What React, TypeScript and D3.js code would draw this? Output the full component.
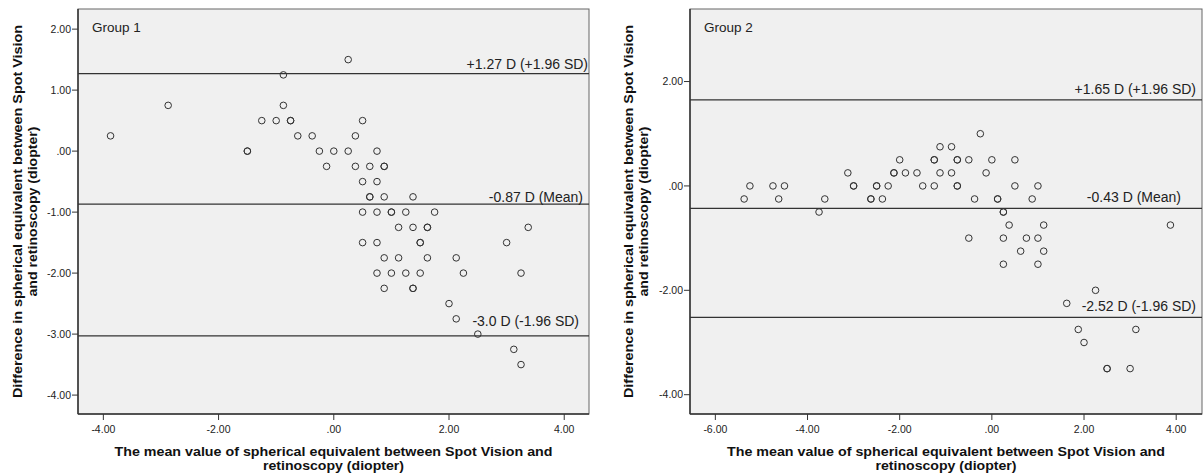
import React from 'react';
import * as d3 from 'd3';

// Group 1: mean of the two methods (x) and their difference (y)
const group1Mean = [
  -3.875, -2.875, -1.5, -1.5, -1.25, -1.0, -0.75, -0.75, -0.875, -0.875,
  -0.625, -0.375, 0.375, 0.25, 0.5, -0.25, 0, 0.25, 0.75, -0.125,
  0.375, 0.625, 0.875, 0.875, 0.5, 0.75, 0.625, 0.625, 0.875, 1.375,
  0.5, 0.75, 1.0, 1.0, 1.25, 1.75, 1.125, 1.375, 1.625, 1.625,
  3.375, 0.5, 0.75, 1.5, 1.5, 3.0, 0.875, 1.125, 1.625, 2.125,
  0.75, 1.0, 1.25, 1.5, 2.25, 3.25, 0.875, 1.375, 1.375, 2.0,
  2.125, 2.5, 3.125, 3.25,
];
const group1Diff = [
  0.25, 0.75, 0, 0, 0.5, 0.5, 0.5, 0.5, 1.25, 0.75,
  0.25, 0.25, 0.25, 1.5, 0.5, 0, 0, 0, 0, -0.25,
  -0.25, -0.25, -0.25, -0.25, -0.5, -0.5, -0.75, -0.75, -0.75, -0.75,
  -1.0, -1.0, -1.0, -1.0, -1.0, -1.0, -1.25, -1.25, -1.25, -1.25,
  -1.25, -1.5, -1.5, -1.5, -1.5, -1.5, -1.75, -1.75, -1.75, -1.75,
  -2.0, -2.0, -2.0, -2.0, -2.0, -2.0, -2.25, -2.25, -2.25, -2.5,
  -2.75, -3.0, -3.25, -3.5,
];
const group1Lines = [1.27, -0.87, -3.03];
const group1LineLabels = ['+1.27 D (+1.96 SD)', '-0.87 D (Mean)', '-3.0 D (-1.96 SD)'];
const group1XTicks = [-4, -2, 0, 2, 4];
const group1YTicks = [-4, -3, -2, -1, 0, 1, 2];

// Group 2
const group2Mean = [
  -5.375, -5.25, -4.75, -4.5, -4.625, -3.75, -3.625, -3.125, -3.0, -3.0,
  -2.625, -2.625, -2.5, -2.5, -2.375, -2.25, -2.125, -2.125, -2.0, -1.875,
  -1.625, -1.5, -1.25, -1.25, -1.25, -1.125, -0.875, -1.125, -0.875, -0.75,
  -0.75, -0.75, -0.75, -0.5, -0.5, -0.25, 0, 0.5, -0.125, 0.5,
  1.0, -0.375, 0.125, 0.125, 0.875, 0.25, 0.25, 0.375, 1.125, 3.875,
  0.25, 0.75, 1.0, 0.625, 1.125, 0.25, 1.0, 2.25, 1.625, 1.875,
  3.125, 2.0, 2.5, 2.5, 3.0,
];
const group2Diff = [
  -0.25, 0, 0, 0, -0.25, -0.5, -0.25, 0.25, 0, 0,
  -0.25, -0.25, 0, 0, -0.25, 0, 0.25, 0.25, 0.5, 0.25,
  0.25, 0, 0, 0.5, 0.5, 0.75, 0.75, 0.25, 0.25, 0.5,
  0.5, 0, 0, 0.5, -1.0, 1.0, 0.5, 0.5, 0.25, 0,
  0, -0.25, -0.25, -0.25, -0.25, -0.5, -0.5, -0.75, -0.75, -0.75,
  -1.0, -1.0, -1.0, -1.25, -1.25, -1.5, -1.5, -2.0, -2.25, -2.75,
  -2.75, -3.0, -3.5, -3.5, -3.5,
];
const group2Lines = [1.65, -0.43, -2.52];
const group2LineLabels = ['+1.65 D (+1.96 SD)', '-0.43 D (Mean)', '-2.52 D (-1.96 SD)'];
const group2XTicks = [-6, -4, -2, 0, 2, 4];
const group2YTicks = [-4, -2, 0, 2];

const xTitle = ['The mean value of spherical equivalent between Spot Vision and', 'retinoscopy (diopter)'];
const yTitle = ['Difference in spherical equivalent between Spot Vision', 'and retinoscopy (diopter)'];

const fmt = (v: number) => (v === 0 ? '.00' : v.toFixed(2));

type PanelProps = {
  name: string;
  left: number;
  right: number;
  xDomain: [number, number];
  yDomain: [number, number];
  xs: number[];
  ys: number[];
  lines: number[];
  labels: string[];
  labelPos: { dx: number; dy: number }[];
  xTicks: number[];
  yTicks: number[];
  titleX: number;
};

const top = 9;
const bottom = 414;

function Panel(p: PanelProps) {
  const x = d3.scaleLinear().domain(p.xDomain).range([p.left, p.right]);
  const y = d3.scaleLinear().domain(p.yDomain).range([bottom, top]);
  const cx = (p.left + p.right) / 2;
  const cy = (top + bottom) / 2;
  const font = 'Liberation Sans, Arial, sans-serif';

  return (
    <g fontFamily={font}>
      <rect x={p.left} y={top} width={p.right - p.left} height={bottom - top} fill="#f0f0f0" stroke="#666" strokeWidth={1} />
      <line x1={p.left} x2={p.left} y1={top} y2={bottom} stroke="#333" strokeWidth={1.5} />
      <line x1={p.left} x2={p.right} y1={bottom} y2={bottom} stroke="#333" strokeWidth={1.5} />

      {p.yTicks.map(t => (
        <g key={'y' + t}>
          <line x1={p.left - 6} x2={p.left} y1={y(t)} y2={y(t)} stroke="#333" />
          <text x={p.left - 7} y={y(t)} dy="0.35em" textAnchor="end" fontSize={10.5} fill="#222">{fmt(t)}</text>
        </g>
      ))}
      {p.xTicks.map(t => (
        <g key={'x' + t}>
          <line x1={x(t)} x2={x(t)} y1={bottom} y2={bottom + 6} stroke="#333" />
          <text x={x(t)} y={429.5} dy="0.35em" textAnchor="middle" fontSize={10.5} fill="#222">{fmt(t)}</text>
        </g>
      ))}

      {p.lines.map((v, i) => (
        <g key={'l' + i}>
          <line x1={p.left} x2={p.right} y1={y(v)} y2={y(v)} stroke="#333" strokeWidth={1.2} />
          <text x={p.right + p.labelPos[i].dx} y={y(v) + p.labelPos[i].dy} textAnchor="end" fontSize={14} fill="#222">
            {p.labels[i]}
          </text>
        </g>
      ))}

      {p.xs.map((v, i) => (
        <circle key={'c' + i} cx={x(v)} cy={y(p.ys[i])} r={3.3} fill="none" stroke="#333" strokeWidth={1} />
      ))}

      <text x={p.left + 14} y={32} fontSize={13.5} fill="#222">{p.name}</text>

      <text x={cx} y={451.5} dy="0.35em" textAnchor="middle" fontSize={13} fontWeight="bold" fill="#111"
        textLength={438} lengthAdjust="spacingAndGlyphs">{xTitle[0]}</text>
      <text x={cx} y={465.5} dy="0.35em" textAnchor="middle" fontSize={13} fontWeight="bold" fill="#111"
        textLength={141} lengthAdjust="spacingAndGlyphs">{xTitle[1]}</text>

      <g transform={`translate(${p.titleX},${cy}) rotate(-90)`}>
        <text x={0} y={0} dy="0.35em" textAnchor="middle" fontSize={13} fontWeight="bold" fill="#111"
          textLength={373} lengthAdjust="spacingAndGlyphs">{yTitle[0]}</text>
        <text x={0} y={15} dy="0.35em" textAnchor="middle" fontSize={13} fontWeight="bold" fill="#111"
          textLength={170} lengthAdjust="spacingAndGlyphs">{yTitle[1]}</text>
      </g>
    </g>
  );
}

export default function App() {
  return (
    <svg width={1203} height={474} style={{ position: 'absolute', left: 0, top: 0, background: '#fff' }}>
      <Panel
        name="Group 1"
        left={78}
        right={589}
        xDomain={[-4.44, 4.43]}
        yDomain={[-4.31, 2.33]}
        xs={group1Mean}
        ys={group1Diff}
        lines={group1Lines}
        labels={group1LineLabels}
        labelPos={[{ dx: -1, dy: -4.5 }, { dx: -6, dy: -2 }, { dx: -10, dy: -9.5 }]}
        xTicks={group1XTicks}
        yTicks={group1YTicks}
        titleX={17}
      />
      <Panel
        name="Group 2"
        left={690}
        right={1202}
        xDomain={[-6.55, 4.56]}
        yDomain={[-4.37, 3.39]}
        xs={group2Mean}
        ys={group2Diff}
        lines={group2Lines}
        labels={group2LineLabels}
        labelPos={[{ dx: -6, dy: -6 }, { dx: -21, dy: -6 }, { dx: -6, dy: -6 }]}
        xTicks={group2XTicks}
        yTicks={group2YTicks}
        titleX={628}
      />
    </svg>
  );
}
